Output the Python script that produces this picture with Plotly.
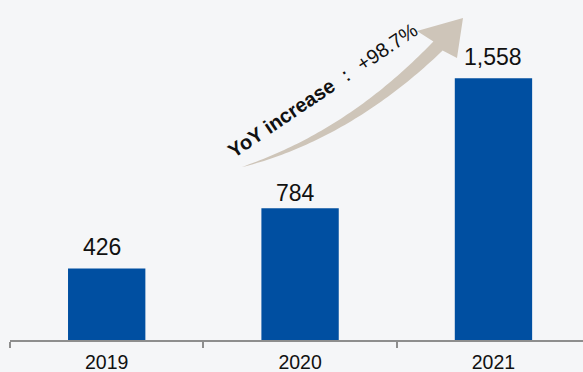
import numpy as np
import plotly.graph_objects as go

# Data
years = ["2019", "2020", "2021"]
values = [426, 784, 1558]
value_labels = ["426", "784", "1,558"]
growth_label = "+98.7%"

# Layout constants (pixels)
W, H = 583, 372
ML, MR, MT, MB = 10, 0, 0, 32
PW, PH = W - ML - MR, H - MT - MB

BAR_COLOR = "#004FA1"
AXIS_GREY = "#8E8E8E"
ARROW_COLOR = "#CEC5B9"
BG = "#F5F6F8"
FONT = "Liberation Sans, Arial, sans-serif"

fig = go.Figure()
fig.add_trace(go.Bar(
    x=years, y=values, width=0.40,
    marker=dict(color=BAR_COLOR, line=dict(width=0)),
    hoverinfo="skip", showlegend=False,
))

# value labels above bars (x given as category index)
label_dx = [-5, -5, 0]
label_dy = [6, 0, 6]
for i, (v, lab, dx, dy) in enumerate(zip(values, value_labels, label_dx, label_dy)):
    fig.add_annotation(x=i, y=v, text=lab, showarrow=False,
                       xanchor="center", yanchor="bottom",
                       xshift=dx, yshift=dy,
                       font=dict(family=FONT, size=23, color="#111111"))


def to_paper(px, py):
    return (px - ML) / PW, (MT + PH - py) / PH


# curved growth arrow: tapered body along a quadratic Bezier plus a head
P0 = np.array([242.0, 167.0])
P1 = np.array([349.0, 135.0])
P2 = np.array([438.0, 46.0])
t = np.linspace(0, 1, 60)
B = ((1 - t) ** 2)[:, None] * P0 + (2 * t * (1 - t))[:, None] * P1 + (t ** 2)[:, None] * P2
D = (2 * (1 - t))[:, None] * (P1 - P0) + (2 * t)[:, None] * (P2 - P1)
D = D / np.linalg.norm(D, axis=1)[:, None]
N = np.stack([D[:, 1], -D[:, 0]], axis=1)
w = 13.0 * t ** 0.8
upper = B + N * (w / 2)[:, None]
lower = B - N * (w / 2)[:, None]
head = [(417.0, 31.0), (463.0, 18.0), (457.0, 58.0)]

pts = list(map(tuple, upper)) + head + list(map(tuple, lower[::-1]))
path = "M " + " L ".join("{:.5f},{:.5f}".format(*to_paper(px, py)) for px, py in pts) + " Z"
fig.add_shape(type="path", path=path, xref="paper", yref="paper",
              fillcolor=ARROW_COLOR, line=dict(width=0), layer="above")

cx, cy = to_paper(323, 90)
fig.add_annotation(x=cx, y=cy, xref="paper", yref="paper",
                   text="<b>YoY increase</b> ： " + growth_label,
                   showarrow=False, textangle=-34,
                   xanchor="center", yanchor="middle",
                   font=dict(family=FONT, size=20, color="#111111"))

fig.update_xaxes(type="category", range=[-0.5, 2.463],
                 tickson="boundaries", ticks="outside", ticklen=6,
                 tickwidth=2, tickcolor=AXIS_GREY,
                 showline=True, linewidth=2, linecolor=AXIS_GREY,
                 showgrid=False, zeroline=False,
                 ticklabelstandoff=4,
                 tickfont=dict(family=FONT, size=19.5, color="#111111"),
                 fixedrange=True)
fig.update_yaxes(range=[0, PH / 0.168], visible=False, showgrid=False,
                 zeroline=False, fixedrange=True)

fig.update_layout(width=W, height=H,
                  margin=dict(l=ML, r=MR, t=MT, b=MB, pad=0),
                  paper_bgcolor=BG, plot_bgcolor=BG,
                  bargap=0.6, showlegend=False)

fig.write_html("out.html", config={"displayModeBar": False})
